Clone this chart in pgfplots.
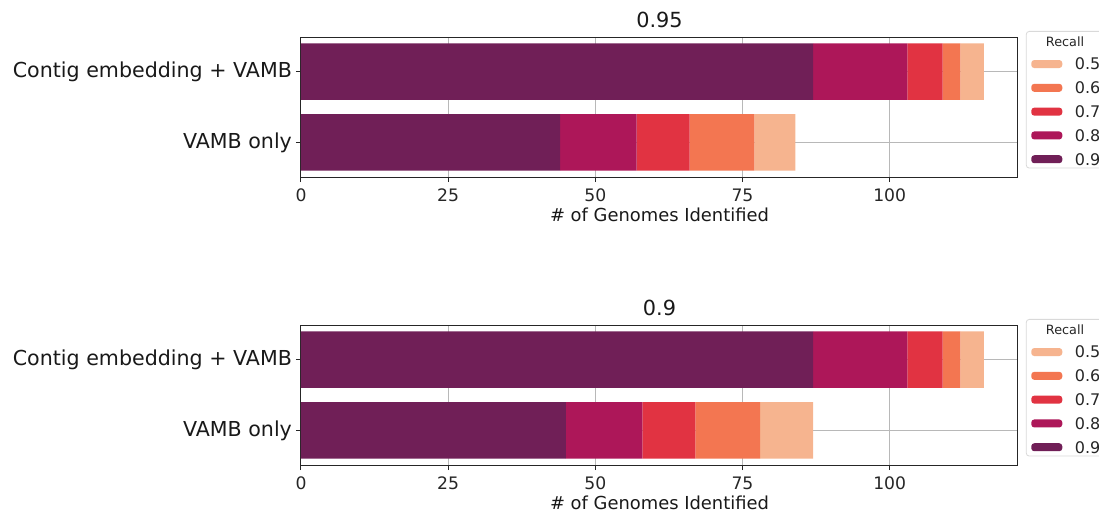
\documentclass[border=0pt]{standalone}
\usepackage{fontspec}
\setmainfont{DejaVu Sans}
\usepackage{pgfplots}
\pgfplotsset{compat=1.18}
\definecolor{r9}{HTML}{701F57}
\definecolor{r8}{HTML}{AD1759}
\definecolor{r7}{HTML}{E13342}
\definecolor{r6}{HTML}{F37651}
\definecolor{r5}{HTML}{F6B48F}
\pgfplotsset{myax/.style={
  scale only axis, width=358.5pt, height=70pt,
  xbar stacked, bar width=0.8,
  xmin=0, xmax=121.8, ymin=-0.49, ymax=1.49,
  ytick={0,1}, yticklabels={VAMB only, Contig embedding + VAMB},
  xtick={0,25,50,75,100},
  grid=major, grid style={color=black!28, line width=0.5pt},
  tick align=outside, tick pos=left, major tick length=2.5pt,
  tick style={black!85, line width=0.5pt},
  axis line style={black!85, line width=0.5pt},
  /pgf/number format/assume math mode=true,
  xticklabel style={font=\fontsize{8.6}{10}\selectfont, text=black!85},
  yticklabel style={font=\fontsize{10.3}{12}\selectfont, text=black!90, xshift=1.5pt},
  xlabel={\# of Genomes Identified},
  xlabel style={at={(axis description cs:0.5,0)}, anchor=base, yshift=-22.35pt, inner sep=0pt,
    font=\fontsize{8.95}{11}\selectfont, text=black!90},
  title style={at={(axis description cs:0.5,1)}, anchor=base, yshift=-1.35pt, inner sep=0pt,
    font=\fontsize{10.4}{13}\selectfont, text=black!90},
  reverse legend,
  legend cell align=left,
  legend style={at={(1.011,1.043)}, anchor=north west, font=\fontsize{8}{10}\selectfont,
    draw=black!15, rounded corners=1.5pt, inner xsep=2.5pt, inner ysep=1.5pt, text=black!85,
    row sep=6.05pt, column sep=6.3pt,
    nodes={inner sep=0pt, text height=5.85pt, text depth=0pt}},
  legend image code/.code={\fill[##1] (0pt,-2pt) rectangle (15.5pt,2pt);},
}}
\begin{document}
\begin{tikzpicture}
\begin{axis}[myax, at={(0,0)}, anchor=north west, title={0.95}]
\addplot[fill=r9, draw=none] coordinates {(44,0) (87,1)};
\addlegendentry{0.9}
\addplot[fill=r8, draw=none] coordinates {(13,0) (16,1)};
\addlegendentry{0.8}
\addplot[fill=r7, draw=none] coordinates {(9,0) (6,1)};
\addlegendentry{0.7}
\addplot[fill=r6, draw=none] coordinates {(11,0) (3,1)};
\addlegendentry{0.6}
\addplot[fill=r5, draw=none] coordinates {(7,0) (4,1)};
\addlegendentry{0.5}
\addlegendimage{empty legend}
\addlegendentry{\hspace{-14.45pt}\fontsize{6.4}{8}\selectfont Recall\rule[-1pt]{0pt}{1pt}}
\end{axis}
\begin{axis}[myax, at={(0,-144pt)}, anchor=north west, title={0.9}]
\addplot[fill=r9, draw=none] coordinates {(45,0) (87,1)};
\addlegendentry{0.9}
\addplot[fill=r8, draw=none] coordinates {(13,0) (16,1)};
\addlegendentry{0.8}
\addplot[fill=r7, draw=none] coordinates {(9,0) (6,1)};
\addlegendentry{0.7}
\addplot[fill=r6, draw=none] coordinates {(11,0) (3,1)};
\addlegendentry{0.6}
\addplot[fill=r5, draw=none] coordinates {(9,0) (4,1)};
\addlegendentry{0.5}
\addlegendimage{empty legend}
\addlegendentry{\hspace{-14.45pt}\fontsize{6.4}{8}\selectfont Recall\rule[-1pt]{0pt}{1pt}}
\end{axis}
\pgfresetboundingbox
\useasboundingbox (-150.5pt,18.5pt) rectangle (399pt,-237pt);
\end{tikzpicture}
\end{document}
